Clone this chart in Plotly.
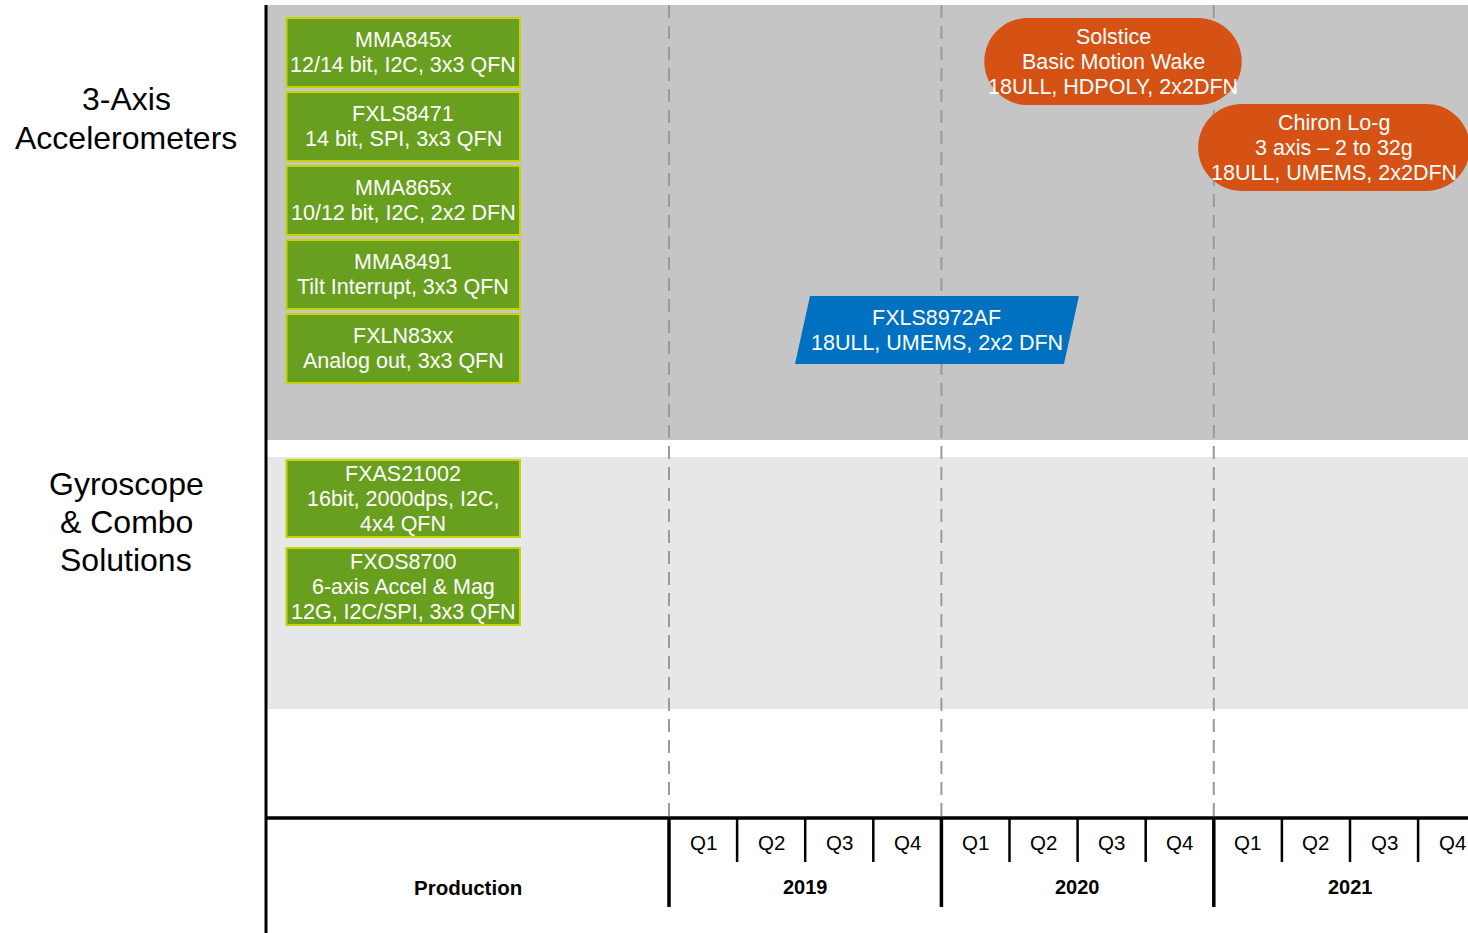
import plotly.graph_objects as go

# ---------------- data ----------------
years = ["2019", "2020", "2021"]
quarters = ["Q1", "Q2", "Q3", "Q4"]
production_label = "Production"

categories = ["3-Axis\nAccelerometers", "Gyroscope\n& Combo\nSolutions"]

accel_names = ["MMA845x", "FXLS8471", "MMA865x", "MMA8491", "FXLN83xx"]
accel_specs = ["12/14 bit, I2C, 3x3 QFN", "14 bit, SPI, 3x3 QFN", "10/12 bit, I2C, 2x2 DFN",
               "Tilt Interrupt, 3x3 QFN", "Analog out, 3x3 QFN"]

gyro_names = ["FXAS21002", "FXOS8700"]
gyro_specs = ["16bit, 2000dps, I2C,\n4x4 QFN", "6-axis Accel & Mag\n12G, I2C/SPI, 3x3 QFN"]

# new products: timing in quarters from start of 2019
new_names = ["Solstice", "Chiron Lo-g", "FXLS8972AF"]
new_specs = ["Basic Motion Wake\n18ULL, HDPOLY, 2x2DFN", "3 axis \u2013 2 to 32g\n18ULL, UMEMS, 2x2DFN",
             "18ULL, UMEMS, 2x2 DFN"]
new_start_q = [4.63, 7.77, 1.85]
new_end_q = [8.41, 11.76, 6.02]
new_kind = ["concept", "concept", "development"]

# ---------------- layout constants ----------------
W, H = 1468, 933
QPX = 68.1            # pixels per quarter
X0PX = 669            # pixel position of 2019 Q1 start
def px(p):
    return (p - X0PX) / QPX

XMIN, XMAX = px(0), px(W)
LEFT = px(266)
PROD_L, PROD_R = px(286.5), px(520)

FONT = "Liberation Sans, Arial, Helvetica, sans-serif"
GREEN, GREEN_EDGE = "#689f1f", "#c8d400"
ORANGE, BLUE = "#d55114", "#0071c1"
BAND1, BAND2 = "#c5c5c5", "#e6e7e8"

fig = go.Figure()
fig.add_trace(go.Scatter(x=[None], y=[None], mode="markers", showlegend=False, hoverinfo="skip"))

shapes = []
annotations = []

def add_text(xc, yc, text, size=21.5, color="white", spacing=25, bold=False):
    lines = text.split("\n")
    n = len(lines)
    for i, ln in enumerate(lines):
        t = f"<b>{ln}</b>" if bold else ln
        annotations.append(dict(x=xc, y=yc + (i - (n - 1) / 2) * spacing, xref="x", yref="y",
                                text=t, showarrow=False, xanchor="center", yanchor="middle",
                                font=dict(family=FONT, size=size, color=color)))

# background bands
shapes.append(dict(type="rect", x0=LEFT, x1=XMAX, y0=5, y1=440, fillcolor=BAND1, line_width=0, layer="below"))
shapes.append(dict(type="rect", x0=LEFT, x1=XMAX, y0=457, y1=709, fillcolor=BAND2, line_width=0, layer="below"))

# dashed year boundaries
for i in range(len(years)):
    shapes.append(dict(type="line", x0=i * 4, x1=i * 4, y0=5, y1=818,
                       line=dict(color="#9a9a9a", width=2, dash="13px,8px"), layer="below"))

# category labels
add_text(px(126), 118, categories[0], size=32, color="black", spacing=39)
add_text(px(126), 521.5, categories[1], size=32, color="black", spacing=38)

# production boxes
for i, (nm, sp) in enumerate(zip(accel_names, accel_specs)):
    top = 18 + i * 74
    shapes.append(dict(type="rect", x0=PROD_L, x1=PROD_R, y0=top, y1=top + 69,
                       fillcolor=GREEN, line=dict(color=GREEN_EDGE, width=2)))
    add_text((PROD_L + PROD_R) / 2, top + 34, nm + "\n" + sp)

for i, (nm, sp) in enumerate(zip(gyro_names, gyro_specs)):
    top = 460 + i * 88
    shapes.append(dict(type="rect", x0=PROD_L, x1=PROD_R, y0=top, y1=top + 77,
                       fillcolor=GREEN, line=dict(color=GREEN_EDGE, width=2)))
    add_text((PROD_L + PROD_R) / 2, top + 38.5, nm + "\n" + sp)

# new products
new_top = [18, 104, 296]
new_h = [87, 87, 68]
K = 0.5523
for nm, sp, xs, xe, kind, yt, hh in zip(new_names, new_specs, new_start_q, new_end_q, new_kind, new_top, new_h):
    yb = yt + hh
    ym = (yt + yb) / 2
    if kind == "concept":
        r = hh / 2
        rx = r / QPX
        a, b = xs + rx, xe - rx
        path = (f"M {a},{yt} L {b},{yt} "
                f"C {b + K * rx},{yt} {xe},{ym - K * r} {xe},{ym} "
                f"C {xe},{ym + K * r} {b + K * rx},{yb} {b},{yb} "
                f"L {a},{yb} "
                f"C {a - K * rx},{yb} {xs},{ym + K * r} {xs},{ym} "
                f"C {xs},{ym - K * r} {a - K * rx},{yt} {a},{yt} Z")
        shapes.append(dict(type="path", path=path, fillcolor=ORANGE, line_width=0))
    else:
        sk = 15 / QPX
        path = f"M {xs + sk},{yt} L {xe},{yt} L {xe - sk},{yb} L {xs},{yb} Z"
        shapes.append(dict(type="path", path=path, fillcolor=BLUE, line_width=0))
    add_text((xs + xe) / 2, ym, nm + "\n" + sp)

# timeline axis
shapes.append(dict(type="line", x0=LEFT, x1=XMAX, y0=818, y1=818, line=dict(color="black", width=3.5)))
shapes.append(dict(type="line", x0=LEFT, x1=LEFT, y0=5, y1=H, line=dict(color="black", width=3)))
for i, yr in enumerate(years):
    shapes.append(dict(type="line", x0=i * 4, x1=i * 4, y0=818, y1=907, line=dict(color="black", width=3.5)))
    for q in range(1, 4):
        shapes.append(dict(type="line", x0=i * 4 + q, x1=i * 4 + q, y0=818, y1=862,
                           line=dict(color="black", width=2.5)))
    for q, ql in enumerate(quarters):
        add_text(i * 4 + q + 0.5, 842, ql, size=20.5, color="black")
    add_text(i * 4 + 2, 887, yr, size=20, color="black", bold=True)
add_text((LEFT + 0) / 2, 887, production_label, size=20.5, color="black", bold=True)

fig.update_layout(
    width=W, height=H,
    margin=dict(l=0, r=0, t=0, b=0),
    paper_bgcolor="white", plot_bgcolor="white",
    xaxis=dict(range=[XMIN, XMAX], visible=False, fixedrange=True),
    yaxis=dict(range=[H, 0], visible=False, fixedrange=True),
    shapes=shapes, annotations=annotations,
    showlegend=False,
)

fig.write_html("out.html", config={"displayModeBar": False, "staticPlot": True})

# remove the browser's default page margin so the figure fills the window exactly
with open("out.html", "r", encoding="utf-8") as f:
    html = f.read()
html = html.replace("<head>", "<head><style>html,body{margin:0;padding:0;overflow:hidden;}</style>", 1)
with open("out.html", "w", encoding="utf-8") as f:
    f.write(html)
